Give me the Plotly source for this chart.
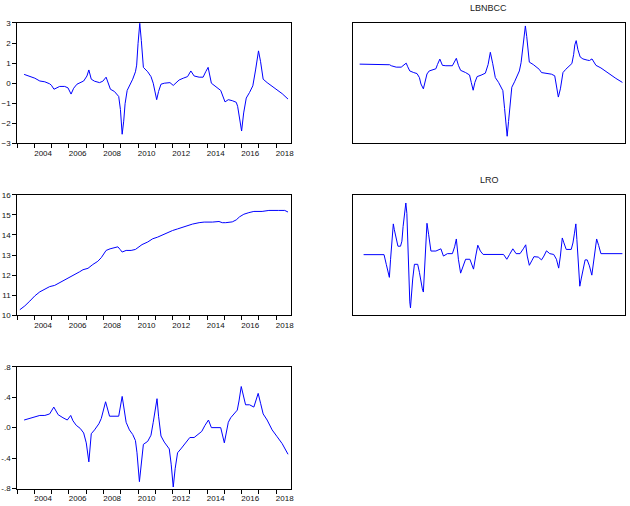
import plotly.graph_objects as go

# ---------------- data (decimal years) ----------------
s1_year = [2003.40, 2003.73, 2004.02, 2004.31, 2004.60, 2004.88, 2004.98, 2005.13, 2005.27, 2005.46,
           2005.75, 2005.94, 2006.12, 2006.27, 2006.46, 2006.65, 2006.85, 2007.04, 2007.15, 2007.29,
           2007.48, 2007.77, 2007.96, 2008.15, 2008.40, 2008.63, 2008.88, 2008.98, 2009.08, 2009.17,
           2009.25, 2009.37, 2009.54, 2009.69, 2009.85, 2009.92, 2010.00, 2010.10, 2010.19, 2010.31,
           2010.56, 2010.75, 2010.88, 2010.96, 2011.08, 2011.19, 2011.33, 2011.52, 2011.71, 2011.85,
           2012.04, 2012.23, 2012.38, 2012.62, 2012.87, 2013.06, 2013.25, 2013.54, 2013.77, 2013.92,
           2014.06, 2014.25, 2014.50, 2014.79, 2015.04, 2015.23, 2015.46, 2015.69, 2015.77, 2015.88,
           2016.00, 2016.12, 2016.27, 2016.46, 2016.65, 2016.81, 2016.88, 2016.98, 2017.10, 2017.25,
           2017.48, 2017.77, 2018.06, 2018.35, 2018.69]
s1_val = [0.44, 0.34, 0.25, 0.11, 0.07, -0.03, -0.10, -0.30, -0.25, -0.16,
          -0.16, -0.23, -0.54, -0.25, -0.05, 0.03, 0.11, 0.36, 0.66, 0.20,
          0.10, 0.03, 0.10, 0.30, -0.30, -0.41, -0.66, -1.31, -2.54, -1.89,
          -1.02, -0.36, -0.08, 0.20, 0.57, 0.90, 1.97, 2.98, 2.13, 0.79,
          0.57, 0.33, 0.00, -0.41, -0.82, -0.41, -0.05, 0.00, 0.00, 0.03,
          -0.11, 0.03, 0.16, 0.25, 0.33, 0.61, 0.36, 0.30, 0.30, 0.57,
          0.79, 0.00, -0.16, -0.36, -0.93, -0.82, -0.87, -0.95, -1.15, -1.72,
          -2.38, -1.48, -0.74, -0.46, -0.13, 0.66, 1.07, 1.61, 1.07, 0.20,
          0.03, -0.16, -0.36, -0.52, -0.79]

lbnbcc_year = [2003.41, 2004.19, 2004.29, 2005.16, 2005.25, 2005.54, 2005.83, 2005.98, 2006.12, 2006.21,
               2006.33, 2006.56, 2006.75, 2006.89, 2006.98, 2007.12, 2007.21, 2007.33, 2007.46, 2007.66,
               2007.85, 2007.94, 2008.08, 2008.23, 2008.43, 2008.81, 2008.94, 2009.04, 2009.16, 2009.29,
               2009.58, 2009.81, 2009.91, 2010.02, 2010.12, 2010.25, 2010.48, 2010.73, 2010.89, 2011.02,
               2011.16, 2011.31, 2011.50, 2011.69, 2011.75, 2011.85, 2011.92, 2012.00, 2012.08, 2012.14,
               2012.27, 2012.43, 2012.60, 2012.71, 2012.81, 2012.91, 2013.00, 2013.06, 2013.14, 2013.21,
               2013.29, 2013.52, 2013.71, 2013.87, 2014.00, 2014.29, 2014.58, 2014.77, 2014.87, 2014.98,
               2015.10, 2015.25, 2015.41, 2015.60, 2015.77, 2015.87, 2015.94, 2016.02, 2016.12, 2016.25,
               2016.41, 2016.66, 2016.79, 2016.94, 2017.08, 2017.17, 2017.46, 2017.75, 2018.04, 2018.33,
               2018.71]
lbnbcc_val = [0.95, 0.95, 0.92, 0.92, 0.87, 0.80, 0.80, 0.90, 1.00, 0.82,
              0.61, 0.53, 0.48, 0.28, -0.04, -0.28, 0.07, 0.46, 0.61, 0.66,
              0.72, 0.93, 1.20, 0.89, 0.87, 0.87, 1.07, 1.24, 0.89, 0.64,
              0.53, 0.41, 0.04, -0.35, 0.04, 0.33, 0.40, 0.50, 0.93, 1.54,
              0.97, 0.28, 0.04, -0.25, -0.37, -1.26, -1.91, -2.64, -1.91, -1.26,
              -0.20, 0.07, 0.40, 0.61, 1.02, 1.67, 2.40, 2.85, 2.32, 1.67,
              1.05, 0.93, 0.82, 0.69, 0.53, 0.50, 0.45, 0.37, -0.20, -0.69,
              -0.28, 0.53, 0.69, 0.82, 0.98, 1.42, 1.91, 2.12, 1.67, 1.31,
              1.21, 1.15, 1.13, 1.21, 1.02, 0.89, 0.76, 0.58, 0.41, 0.24,
              0.04]

s3_year = [2003.15, 2003.44, 2003.73, 2004.02, 2004.31, 2004.60, 2004.88, 2005.17, 2005.46, 2005.75,
           2006.04, 2006.33, 2006.62, 2006.81, 2007.10, 2007.38, 2007.67, 2007.87, 2008.00, 2008.15,
           2008.38, 2008.58, 2008.83, 2008.96, 2009.08, 2009.31, 2009.60, 2009.85, 2010.04, 2010.23,
           2010.56, 2010.85, 2011.13, 2011.42, 2011.71, 2012.00, 2012.29, 2012.58, 2012.87, 2013.15,
           2013.54, 2013.83, 2014.31, 2014.69, 2014.88, 2015.08, 2015.46, 2015.69, 2015.88, 2016.13,
           2016.42, 2016.71, 2017.19, 2017.58, 2018.15, 2018.50, 2018.69]
s3_val = [10.28, 10.47, 10.71, 10.97, 11.17, 11.30, 11.43, 11.49, 11.62, 11.75,
          11.90, 12.03, 12.17, 12.27, 12.34, 12.53, 12.69, 12.87, 13.06, 13.23,
          13.31, 13.36, 13.41, 13.28, 13.15, 13.23, 13.23, 13.28, 13.41, 13.52,
          13.65, 13.81, 13.89, 14.01, 14.13, 14.22, 14.30, 14.39, 14.46, 14.54,
          14.61, 14.64, 14.64, 14.67, 14.61, 14.61, 14.65, 14.75, 14.90, 15.03,
          15.11, 15.17, 15.17, 15.22, 15.22, 15.22, 15.14]

lro_year = [2003.64, 2004.83, 2004.96, 2005.06, 2005.14, 2005.21, 2005.27, 2005.37, 2005.43, 2005.52,
            2005.64, 2005.79, 2005.87, 2005.94, 2006.02, 2006.10, 2006.16, 2006.21, 2006.27, 2006.33,
            2006.37, 2006.43, 2006.50, 2006.60, 2006.79, 2006.89, 2006.98, 2007.06, 2007.12, 2007.19,
            2007.27, 2007.33, 2007.43, 2007.56, 2007.85, 2008.00, 2008.14, 2008.29, 2008.52, 2008.81,
            2008.94, 2009.04, 2009.16, 2009.29, 2009.44, 2009.58, 2009.83, 2009.92, 2010.04, 2010.17,
            2010.29, 2010.44, 2010.60, 2011.79, 2011.98, 2012.14, 2012.33, 2012.52, 2012.75, 2012.94,
            2013.08, 2013.17, 2013.29, 2013.43, 2013.56, 2013.81, 2014.00, 2014.14, 2014.29, 2014.48,
            2014.71, 2014.87, 2015.00, 2015.10, 2015.21, 2015.29, 2015.44, 2015.73, 2015.83, 2015.92,
            2016.00, 2016.06, 2016.14, 2016.23, 2016.31, 2016.41, 2016.54, 2016.66, 2016.79, 2016.93,
            2017.04, 2017.14, 2017.21, 2017.33, 2017.46, 2018.71]
lro_val = [0.02, 0.02, -0.46, -0.86, -1.11, -0.21, 0.47, 1.55, 1.26, 0.85,
           0.44, 0.44, 0.69, 1.42, 1.99, 2.59, 2.07, 0.60, -0.70, -2.33,
           -2.63, -1.84, -1.19, -0.46, -0.46, -0.86, -1.35, -1.68, -1.84, -0.70,
           0.77, 1.58, 1.01, 0.20, 0.20, 0.24, 0.31, -0.05, 0.07, 0.07,
           0.41, 0.80, -0.21, -0.90, -0.54, -0.21, -0.21, -0.46, -0.70, -0.05,
           0.49, 0.20, 0.03, 0.03, -0.21, 0.03, 0.31, 0.07, 0.07, 0.31,
           0.51, -0.05, -0.51, -0.29, -0.08, -0.10, -0.24, -0.05, 0.21, 0.07,
           0.03, -0.21, -0.65, -0.05, 0.85, 0.64, 0.28, 0.28, 0.60, 1.09,
           1.55, 0.77, -0.21, -1.55, -1.19, -0.73, -0.24, -0.24, -0.54, -1.00,
           -0.21, 0.47, 0.80, 0.47, 0.07, 0.07]

s5_year = [2003.40, 2003.73, 2004.02, 2004.31, 2004.60, 2004.88, 2005.12, 2005.37, 2005.65, 2005.90,
           2006.10, 2006.23, 2006.42, 2006.65, 2006.85, 2007.00, 2007.15, 2007.29, 2007.48, 2007.73,
           2007.87, 2008.00, 2008.12, 2008.35, 2008.63, 2008.88, 2009.08, 2009.21, 2009.31, 2009.50,
           2009.69, 2009.85, 2009.94, 2010.08, 2010.21, 2010.31, 2010.56, 2010.75, 2010.88, 2011.00,
           2011.10, 2011.19, 2011.33, 2011.52, 2011.71, 2011.81, 2011.92, 2012.04, 2012.15, 2012.29,
           2012.48, 2012.77, 2013.00, 2013.25, 2013.48, 2013.69, 2013.88, 2014.08, 2014.25, 2014.50,
           2014.79, 2015.00, 2015.23, 2015.37, 2015.56, 2015.75, 2015.85, 2015.98, 2016.23, 2016.46,
           2016.71, 2016.83, 2016.96, 2017.10, 2017.25, 2017.48, 2017.77, 2018.06, 2018.35, 2018.69]
s5_val = [0.10, 0.12, 0.14, 0.16, 0.16, 0.18, 0.27, 0.17, 0.13, 0.10,
          0.16, 0.09, 0.03, -0.01, -0.07, -0.20, -0.45, -0.08, -0.03, 0.05,
          0.12, 0.24, 0.34, 0.15, 0.15, 0.15, 0.41, 0.23, 0.07, -0.03,
          -0.09, -0.17, -0.33, -0.71, -0.37, -0.22, -0.18, -0.10, 0.07, 0.24,
          0.38, 0.15, -0.11, -0.19, -0.24, -0.28, -0.48, -0.78, -0.54, -0.33,
          -0.28, -0.20, -0.13, -0.13, -0.09, -0.05, 0.03, 0.10, 0.00, 0.00,
          0.00, -0.20, 0.07, 0.13, 0.18, 0.23, 0.35, 0.54, 0.30, 0.30,
          0.27, 0.36, 0.45, 0.32, 0.18, 0.10, -0.03, -0.12, -0.21, -0.35]

year_labels = ["2004", "2006", "2008", "2010", "2012", "2014", "2016", "2018"]
s1_ticks = [-3, -2, -1, 0, 1, 2, 3]
s3_ticks = [10, 11, 12, 13, 14, 15, 16]
s5_ticks = [-0.8, -0.4, 0.0, 0.4, 0.8]
s5_ticktext = ["-.8", "-.4", ".0", ".4", ".8"]

# ---------------- figure ----------------
W, H = 630, 506
FONT = "Liberation Sans, Arial, sans-serif"
BLUE = "#0000ff"

fig = go.Figure()
series = [
    (s1_year, s1_val, "x", "y"),
    (lbnbcc_year, lbnbcc_val, "x2", "y2"),
    (s3_year, s3_val, "x3", "y3"),
    (lro_year, lro_val, "x4", "y4"),
    (s5_year, s5_val, "x5", "y5"),
]
for xs, ys, xa, ya in series:
    fig.add_trace(go.Scatter(x=xs, y=ys, xaxis=xa, yaxis=ya, mode="lines",
                             line=dict(color=BLUE, width=1), showlegend=False,
                             hoverinfo="skip"))

def px_x(a, b):
    return [a / W, b / W]

def px_y(top, bottom):
    return [1 - bottom / H, 1 - top / H]

left_x = px_x(17.3, 292.7)
right_x = px_x(354.3, 628.3)
row1 = px_y(19.3, 142.0)
row2 = px_y(194.2, 317.0)
row3 = px_y(369.3, 493.3)

XR = [2003.0, 2018.88]
label_pos = [int(l) + 0.5 for l in year_labels]

def xaxis_left(domain, anchor):
    return dict(domain=domain, anchor=anchor, range=XR, showgrid=False, zeroline=False,
                showline=True, linecolor="black", linewidth=1, mirror=True,
                tickmode="array", tickvals=label_pos, ticktext=year_labels,
                ticks="outside", ticklen=2, tickcolor="rgba(0,0,0,0)",
                tickfont=dict(family=FONT, size=8, color="#111"),
                minor=dict(tickmode="linear", tick0=2003, dtick=1, ticks="outside",
                           ticklen=4, tickcolor="black", tickwidth=1, showgrid=False))

def xaxis_right(domain, anchor):
    return dict(domain=domain, anchor=anchor, range=XR, showgrid=False, zeroline=False,
                showline=True, linecolor="black", linewidth=1, mirror=True,
                showticklabels=False, ticks="")

def yaxis_left(domain, anchor, rng, tv, tt=None):
    d = dict(domain=domain, anchor=anchor, range=rng, showgrid=False, zeroline=False,
             showline=True, linecolor="black", linewidth=1, mirror=True,
             tickmode="array", tickvals=tv, ticks="outside", ticklen=4,
             tickcolor="black", tickfont=dict(family=FONT, size=8, color="#111"))
    if tt is not None:
        d["ticktext"] = tt
    return d

def yaxis_right(domain, anchor, rng):
    return dict(domain=domain, anchor=anchor, range=rng, showgrid=False, zeroline=False,
                showline=True, linecolor="black", linewidth=1, mirror=True,
                showticklabels=False, ticks="")

fig.update_layout(
    width=W, height=H, autosize=False,
    margin=dict(l=0, r=0, t=0, b=0, pad=0),
    paper_bgcolor="white", plot_bgcolor="white",
    xaxis=xaxis_left(left_x, "y"),
    yaxis=yaxis_left(row1, "x", [-3, 3], s1_ticks),
    xaxis2=xaxis_right(right_x, "y2"),
    yaxis2=yaxis_right(row1, "x2", [-3, 3]),
    xaxis3=xaxis_left(left_x, "y3"),
    yaxis3=yaxis_left(row2, "x3", [10, 16], s3_ticks),
    xaxis4=xaxis_right(right_x, "y4"),
    yaxis4=yaxis_right(row2, "x4", [-3, 3]),
    xaxis5=xaxis_left(left_x, "y5"),
    yaxis5=yaxis_left(row3, "x5", [-0.8, 0.8], s5_ticks, s5_ticktext),
    annotations=[
        dict(text="LBNBCC", x=491 / W, y=1 - 4 / H, xref="paper", yref="paper",
             xanchor="center", yanchor="middle", showarrow=False,
             font=dict(family=FONT, size=9, color="#222")),
        dict(text="LRO", x=492 / W, y=1 - 179 / H, xref="paper", yref="paper",
             xanchor="center", yanchor="middle", showarrow=False,
             font=dict(family=FONT, size=9, color="#222")),
    ],
)

fig.write_html("out.html",
               config={"displayModeBar": False, "staticPlot": True},
               post_script="document.body.style.margin='0';document.body.style.overflow='hidden';")
